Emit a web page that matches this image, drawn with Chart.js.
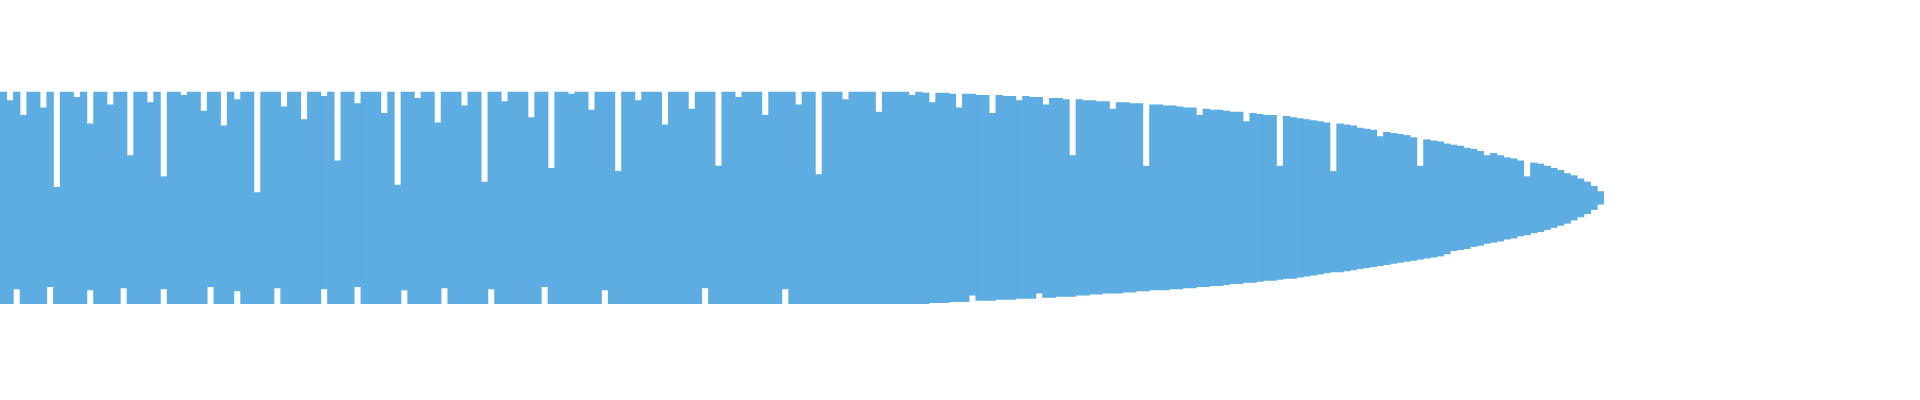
<!DOCTYPE html>
<html>
<head>
<meta charset="utf-8">
<script src="https://cdn.jsdelivr.net/npm/chart.js@4"></script>
<style>
  body { margin: 0; background: #fff; }
  #wrap { width: 1604px; height: 400px; }
</style>
</head>
<body>
<div id="wrap"><canvas id="wave"></canvas></div>
<script>
// ---------- Data (amplitude, 100 = full height) ----------
const topValues = [
  100,92,100,78,100,100,85,100,10,100,100,95,100,70,100,100,88,100,100,40,
  100,100,90,100,20,100,100,97,100,100,82,100,100,68,100,93,100,100,5,100,
  100,100,86,100,100,74,100,100,96,100,35,100,100,89,100,100,100,80,100,12,
  100,100,94,100,100,71,100,100,100,87,100,100,15,100,100,91,100,100,100,76,
  100,100,28,100,100,98,100,100,83,100,100,100,25,100,100,92,100,100,100,69,
  100,100,100,84,100,100,100,30,100,100,95,100,100,100,78,100,100,100,100,88,
  100,100,22,100,100,100,93,100,100,100,100,81,100,100,100,100,97,
  100,99,90,99,99,98,85,98,98,97,97,80,97,96,96,92,96,95,95,88,
  94,94,93,40,93,92,92,91,91,84,90,90,89,89,30,88,88,87,87,86,
  85,85,78,84,83,83,82,81,81,72,80,79,78,78,30,77,76,75,74,73,
  72,71,25,70,69,68,66,65,64,58,62,61,60,59,57,30,55,54,53,51,
  50,49,47,46,44,40,42,40,38,37,35,20,33,32,30,28,26,23,21,18,
  15,11,6
];
const bottomValues = [
  100,100,86,100,100,100,100,84,100,100,100,100,100,87,100,100,100,100,85,100,
  100,100,100,100,86,100,100,100,100,100,100,84,100,100,100,88,100,100,100,100,
  100,85,100,100,100,100,100,100,86,100,100,100,100,84,100,100,100,100,100,100,
  87,100,100,100,100,100,85,100,100,100,100,100,100,86,100,100,100,100,100,100,
  100,84,100,100,100,100,100,100,100,100,87,100,100,100,100,100,100,100,100,100,
  100,100,100,100,100,85,100,100,100,100,100,100,100,100,100,100,100,86,100,100,
  100,100,100,100,100,100,100,100,100,100,100,100,100,100,100,100,100,
  100,100,99,99,99,98,98,98,92,97,97,97,96,96,96,95,95,95,90,94,
  94,93,93,93,92,92,91,91,90,90,90,89,89,88,88,87,87,87,86,86,
  85,85,84,84,83,83,82,81,81,80,80,79,78,78,77,76,76,75,74,73,
  72,71,70,70,69,68,67,66,65,64,63,62,61,60,59,58,57,56,55,53,
  50,49,48,46,45,43,42,41,39,38,36,35,33,32,30,28,26,24,21,18,
  15,11,6
];
const labels = topValues.map((v, i) => i);

// ---------- Chart ----------
const ctx = document.getElementById('wave').getContext('2d');
new Chart(ctx, {
  type: 'bar',
  data: {
    labels: labels,
    datasets: [{
      data: topValues.map((t, i) => [-bottomValues[i], t]),
      backgroundColor: '#5dade2',
      borderWidth: 0,
      barPercentage: 1,
      categoryPercentage: 1
    }]
  },
  options: {
    responsive: true,
    maintainAspectRatio: false,
    animation: false,
    layout: { padding: 0 },
    plugins: { legend: { display: false }, tooltip: { enabled: false } },
    scales: {
      x: { display: false },
      y: { display: false, min: -191, max: 187 }
    }
  }
});
</script>
</body>
</html>
